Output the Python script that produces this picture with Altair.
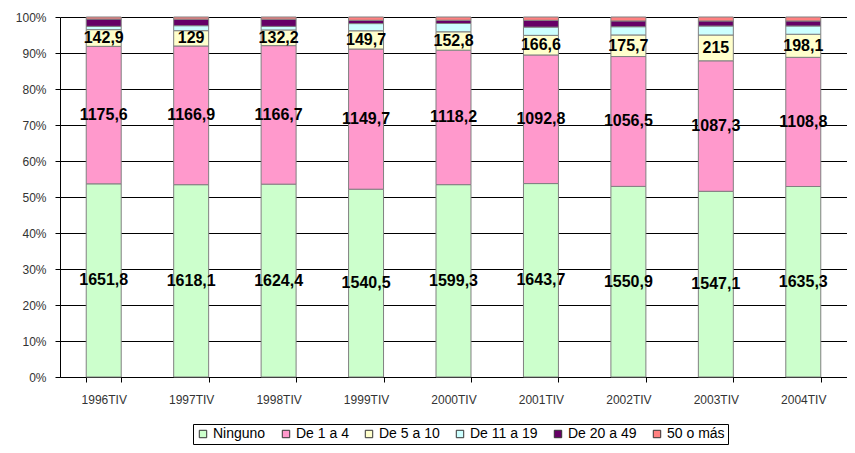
import altair as alt
import pandas as pd

years = ["1996TIV", "1997TIV", "1998TIV", "1999TIV", "2000TIV",
         "2001TIV", "2002TIV", "2003TIV", "2004TIV"]
series = ["Ninguno", "De 1 a 4", "De 5 a 10", "De 11 a 19", "De 20 a 49", "50 o más"]
colors = ["#CCFFCC", "#FF99CC", "#FFFFCC", "#CCFFFF", "#660066", "#FF8080"]

ninguno = [1651.8, 1618.1, 1624.4, 1540.5, 1599.3, 1643.7, 1550.9, 1547.1, 1635.3]
de1a4 = [1175.6, 1166.9, 1166.7, 1149.7, 1118.2, 1092.8, 1056.5, 1087.3, 1108.8]
de5a10 = [142.9, 129, 132.2, 149.7, 152.8, 166.6, 175.7, 215, 198.1]
de11a19 = [28, 42, 30, 59, 69, 70, 67, 75, 71]
de20a49 = [62, 55, 61, 27, 27, 58, 47, 42, 43]
mas50 = [18, 18, 18, 27, 27, 28, 32, 33, 34]
labeled_series = ["Ninguno", "De 1 a 4", "De 5 a 10"]
y_ticks = [0, 0.1, 0.2, 0.3, 0.4, 0.5, 0.6, 0.7, 0.8, 0.9, 1.0]

values = [ninguno, de1a4, de5a10, de11a19, de20a49, mas50]
rows = []
for si, (s, vals) in enumerate(zip(series, values)):
    for y, v in zip(years, vals):
        lab = f"{v:g}".replace(".", ",") if s in labeled_series else ""
        rows.append({"year": y, "series": s, "idx": si, "value": v, "label": lab})
df = pd.DataFrame(rows)

FONT = "Liberation Sans"

base = alt.Chart(df).transform_stack(
    stack="value", groupby=["year"], as_=["y0", "y1"], offset="normalize",
    sort=[alt.SortField("idx", order="ascending")]
).transform_calculate(mid="(datum.y0 + datum.y1) / 2")

x_axis = alt.Axis(tickBand="extent", labelAngle=0, labelFont=FONT,
                  labelFontSize=12, labelColor="#333333", tickColor="black",
                  domainColor="black", tickSize=5, labelPadding=12, grid=False)
y_axis = alt.Axis(format=".0%", values=y_ticks, labelOverlap=False,
                  labelFont=FONT, labelFontSize=12, labelColor="#333333",
                  tickColor="black", domainColor="black", tickSize=5,
                  labelPadding=9, grid=True, gridColor="black",
                  gridWidth=1, gridOpacity=1)
x_scale = alt.Scale(paddingInner=0.6, paddingOuter=0.3)
y_scale = alt.Scale(domain=[0, 1], nice=False)

bars = base.mark_bar(stroke="#808080", strokeWidth=1).encode(
    x=alt.X("year:N", sort=years, title=None, scale=x_scale, axis=x_axis),
    y=alt.Y("y0:Q", title=None, scale=y_scale, axis=y_axis),
    y2="y1:Q",
    color=alt.Color("series:N", sort=series,
                    scale=alt.Scale(domain=series, range=colors),
                    legend=alt.Legend(title=None, orient="none", direction="horizontal",
                                      columns=6, legendX=133, legendY=407,
                                      strokeColor="black", padding=3,
                                      symbolType="square", symbolSize=55,
                                      symbolStrokeColor="#333333", symbolStrokeWidth=1,
                                      labelFont=FONT, labelFontSize=14, labelColor="black",
                                      labelOffset=3, columnPadding=13)),
    order=alt.Order("idx:Q", sort="ascending"),
)

texts = base.transform_filter("datum.label != ''").mark_text(
    font=FONT, fontSize=16, fontWeight="bold", color="black", baseline="middle"
).encode(
    x=alt.X("year:N", sort=years, title=None, scale=x_scale, axis=x_axis),
    y=alt.Y("mid:Q", title=None, scale=y_scale, axis=y_axis),
    text="label:N",
)

chart = alt.layer(bars, texts).properties(
    width=787, height=360,
    autosize=alt.AutoSizeParams(type="none"),
    padding={"left": 52, "top": 9, "right": 0, "bottom": 68},
).configure_view(stroke=None)

chart.save("out.html", embed_options={"renderer": "svg", "actions": False})
